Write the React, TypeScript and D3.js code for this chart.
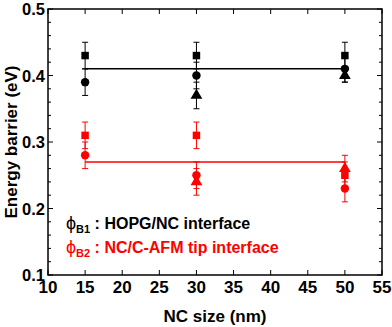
import React from "react";
import * as d3 from "d3";

const sizes = [15, 30, 50];

// black series (phi B1)
const b1Square = [0.43, 0.43, 0.43];
const b1SquareErr = [0.02, 0.02, 0.02];
const b1Circle = [0.39, 0.4, 0.41];
const b1CircleErr = [0.02, 0.02, 0.02];
const b1Triangle = [null, 0.37, 0.4];
const b1TriangleErr = [0, 0.02, 0.01];
const b1Mean = 0.41;

// red series (phi B2)
const b2Square = [0.31, 0.31, 0.25];
const b2SquareErr = [0.02, 0.02, 0.02];
const b2Circle = [0.28, 0.25, 0.23];
const b2CircleErr = [0.02, 0.02, 0.02];
const b2Triangle = [null, 0.24, 0.26];
const b2TriangleErr = [0, 0.02, 0.02];
const b2Mean = 0.27;

const xTicks = [10, 15, 20, 25, 30, 35, 40, 45, 50, 55];
const yTicks = [0.1, 0.2, 0.3, 0.4, 0.5];

const W = 392;
const H = 327;
const m = { left: 48, right: 10, top: 9, bottom: 52 };
const font = "'Liberation Sans', Arial, sans-serif";

const x = d3.scaleLinear().domain([10, 55]).range([m.left, W - m.right]);
const y = d3.scaleLinear().domain([0.1, 0.5]).range([H - m.bottom, m.top]);

type Pt = { s: number; v: number; e: number };
const pts = (vals: (number | null)[], errs: number[]): Pt[] =>
  vals
    .map((v, i) => ({ s: sizes[i], v: v as number, e: errs[i] }))
    .filter((d) => d.v != null);

const ErrorBars = ({ data, color }: { data: Pt[]; color: string }) => (
  <g stroke={color} strokeWidth={1}>
    {data.map((d, i) => (
      <g key={i}>
        <line x1={x(d.s)} x2={x(d.s)} y1={y(d.v - d.e)} y2={y(d.v + d.e)} />
        <line x1={x(d.s) - 3} x2={x(d.s) + 3} y1={y(d.v - d.e)} y2={y(d.v - d.e)} />
        <line x1={x(d.s) - 3} x2={x(d.s) + 3} y1={y(d.v + d.e)} y2={y(d.v + d.e)} />
      </g>
    ))}
  </g>
);

const Markers = ({ data, color, shape }: { data: Pt[]; color: string; shape: d3.SymbolType }) => {
  const sym = d3.symbol().type(shape).size(shape === d3.symbolTriangle ? 60 : 56);
  return (
    <g fill={color}>
      {data.map((d, i) => (
        <path key={i} d={sym() as string} transform={`translate(${x(d.s)},${y(d.v)})`} />
      ))}
    </g>
  );
};

const Series = ({ color, sq, sqE, ci, ciE, tr, trE, mean }: any) => {
  const sqP = pts(sq, sqE);
  const ciP = pts(ci, ciE);
  const trP = pts(tr, trE);
  return (
    <g>
      <line x1={x(15)} x2={x(50)} y1={y(mean)} y2={y(mean)} stroke={color} strokeWidth={1.5} />
      <ErrorBars data={sqP} color={color} />
      <ErrorBars data={trP} color={color} />
      <ErrorBars data={ciP} color={color} />
      <Markers data={sqP} color={color} shape={d3.symbolSquare} />
      <Markers data={trP} color={color} shape={d3.symbolTriangle} />
      <Markers data={ciP} color={color} shape={d3.symbolCircle} />
    </g>
  );
};

export default function App() {
  const yMinor = d3.range(0.1, 0.5001, 0.02);
  const x0 = m.left;
  const x1 = W - m.right;
  const y0 = H - m.bottom;
  const y1 = m.top;
  return (
    <svg width={W} height={H} style={{ position: "absolute", left: 0, top: 0, background: "#fff" }} fontFamily={font} fontWeight="bold">
      <rect x={0} y={0} width={W} height={H} fill="#fff" />
      <Series color="#000" sq={b1Square} sqE={b1SquareErr} ci={b1Circle} ciE={b1CircleErr} tr={b1Triangle} trE={b1TriangleErr} mean={b1Mean} />
      <Series color="#ff0000" sq={b2Square} sqE={b2SquareErr} ci={b2Circle} ciE={b2CircleErr} tr={b2Triangle} trE={b2TriangleErr} mean={b2Mean} />

      {/* ticks */}
      <g stroke="#000" strokeWidth={1}>
        {xTicks.map((t) => (
          <g key={t}>
            <line x1={x(t)} x2={x(t)} y1={y0} y2={y0 - 5} />
            <line x1={x(t)} x2={x(t)} y1={y1} y2={y1 + 5} />
          </g>
        ))}
        {yMinor.map((t, i) => {
          const len = i % 5 === 0 ? 5 : 3;
          return (
            <g key={i}>
              <line x1={x0} x2={x0 + len} y1={y(t)} y2={y(t)} />
              <line x1={x1} x2={x1 - len} y1={y(t)} y2={y(t)} />
            </g>
          );
        })}
      </g>
      <rect x={x0} y={y1} width={x1 - x0} height={y0 - y1} fill="none" stroke="#000" strokeWidth={1.5} />

      {/* tick labels */}
      <g fill="#000">
        {xTicks.map((t) => (
          <text key={t} x={x(t)} y={y0 + 18} textAnchor="middle" fontSize={17}>{t}</text>
        ))}
        {yTicks.map((t) => (
          <text key={t} x={x0 - 3} y={y(t) + 6} textAnchor="end" fontSize={16.5}>{t.toFixed(1)}</text>
        ))}
      </g>

      <text x={(x0 + x1) / 2} y={H - 5} textAnchor="middle" fontSize={17}>NC size (nm)</text>
      <text transform={`translate(17,${(y0 + y1) / 2}) rotate(-90)`} textAnchor="middle" fontSize={17}>Energy barrier (eV)</text>

      {/* legend */}
      <g fontSize={16}>
        <text x={66} y={229} fill="#000">
          <tspan fontWeight="normal" fontSize={18}>ϕ</tspan>
          <tspan fontSize={11} dy={4}>B1</tspan>
          <tspan dy={-4}> : HOPG/NC interface</tspan>
        </text>
        <text x={66} y={253} fill="#ff0000">
          <tspan fontWeight="normal" fontSize={18}>ϕ</tspan>
          <tspan fontSize={11} dy={4}>B2</tspan>
          <tspan dy={-4}> : NC/C-AFM tip interface</tspan>
        </text>
      </g>
    </svg>
  );
}
